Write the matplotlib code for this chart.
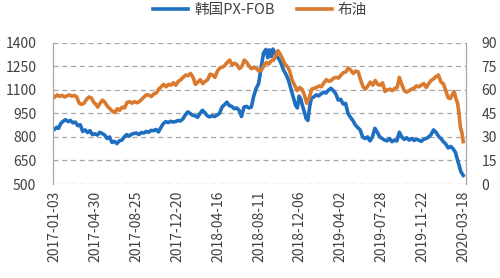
import pandas as pd
import matplotlib
matplotlib.use("Agg")
import matplotlib.pyplot as plt

plt.rcParams['font.family'] = ['Noto Sans CJK SC', 'DejaVu Sans']

# --- data (roughly weekly) ---
px_dates = [
    "2017-01-03", "2017-01-09", "2017-01-14", "2017-01-20", "2017-01-27", "2017-02-03", "2017-02-10",
    "2017-02-17", "2017-02-24", "2017-03-03", "2017-03-10", "2017-03-17", "2017-03-24", "2017-03-31",
    "2017-04-07", "2017-04-14", "2017-04-21", "2017-04-28", "2017-05-05", "2017-05-12", "2017-05-19",
    "2017-05-26", "2017-06-02", "2017-06-09", "2017-06-16", "2017-06-23", "2017-06-30", "2017-07-07",
    "2017-07-14", "2017-07-21", "2017-07-28", "2017-08-04", "2017-08-11", "2017-08-18", "2017-08-25",
    "2017-09-01", "2017-09-08", "2017-09-15", "2017-09-22", "2017-09-29", "2017-10-06", "2017-10-13",
    "2017-10-20", "2017-10-27", "2017-11-03", "2017-11-10", "2017-11-17", "2017-11-24", "2017-12-01",
    "2017-12-08", "2017-12-15", "2017-12-22", "2017-12-29", "2018-01-05", "2018-01-12", "2018-01-19",
    "2018-01-26", "2018-02-02", "2018-02-09", "2018-02-16", "2018-02-23", "2018-03-02", "2018-03-09",
    "2018-03-16", "2018-03-23", "2018-03-30", "2018-04-06", "2018-04-13", "2018-04-20", "2018-04-27",
    "2018-05-04", "2018-05-11", "2018-05-18", "2018-05-25", "2018-06-01", "2018-06-08", "2018-06-15",
    "2018-06-22", "2018-06-29", "2018-07-06", "2018-07-13", "2018-07-20", "2018-07-27", "2018-08-03",
    "2018-08-10", "2018-08-17", "2018-08-24", "2018-08-31", "2018-09-05", "2018-09-10", "2018-09-15",
    "2018-09-20", "2018-09-26", "2018-10-02", "2018-10-08", "2018-10-14", "2018-10-20", "2018-10-27",
    "2018-11-03", "2018-11-10", "2018-11-17", "2018-11-24", "2018-11-29", "2018-12-04", "2018-12-09",
    "2018-12-14", "2018-12-19", "2018-12-24", "2018-12-29", "2019-01-03", "2019-01-08", "2019-01-15",
    "2019-01-22", "2019-01-29", "2019-02-05", "2019-02-12", "2019-02-19", "2019-02-26", "2019-03-05",
    "2019-03-12", "2019-03-19", "2019-03-26", "2019-04-02", "2019-04-09", "2019-04-16", "2019-04-23",
    "2019-04-30", "2019-05-07", "2019-05-14", "2019-05-21", "2019-05-28", "2019-06-04", "2019-06-11",
    "2019-06-18", "2019-06-25", "2019-07-02", "2019-07-09", "2019-07-16", "2019-07-23", "2019-07-30",
    "2019-08-06", "2019-08-13", "2019-08-20", "2019-08-27", "2019-09-03", "2019-09-10", "2019-09-17",
    "2019-09-24", "2019-10-01", "2019-10-08", "2019-10-15", "2019-10-22", "2019-10-29", "2019-11-05",
    "2019-11-12", "2019-11-19", "2019-11-26", "2019-12-03", "2019-12-10", "2019-12-17", "2019-12-24",
    "2019-12-31", "2020-01-07", "2020-01-14", "2020-01-21", "2020-01-28", "2020-02-04", "2020-02-11",
    "2020-02-18", "2020-02-25", "2020-03-02", "2020-03-07", "2020-03-11", "2020-03-15", "2020-03-18"]
px_vals = [
    850, 862, 855, 885, 900, 910, 898,
    905, 890, 895, 872, 878, 835, 845,
    828, 840, 815, 820, 812, 830, 822,
    812, 790, 800, 765, 772, 758, 775,
    780, 800, 815, 805, 818, 822, 825,
    815, 828, 825, 835, 830, 842, 840,
    848, 832, 860, 885, 898, 892, 900,
    895, 898, 905, 902, 915, 940, 960,
    950, 938, 935, 925, 950, 970, 955,
    935, 928, 935, 930, 940, 950, 990,
    1005, 1022, 1000, 995, 980, 985, 970,
    930, 990, 995, 985, 990, 1060, 1110,
    1140, 1240, 1335, 1358, 1305, 1355, 1312,
    1360, 1330, 1310, 1295, 1265, 1228, 1200,
    1165, 1110, 1056, 1000, 985, 1060, 1040,
    995, 960, 918, 905, 990, 1046, 1055,
    1068, 1062, 1075, 1085, 1080, 1098, 1110,
    1095, 1075, 1035, 1040, 1010, 1014, 950,
    925, 905, 876, 860, 844, 800, 790,
    800, 775, 800, 855, 830, 800, 790,
    780, 775, 790, 770, 780, 775, 830,
    800, 785, 795, 780, 790, 778, 785,
    780, 772, 785, 790, 800, 815, 845,
    830, 805, 790, 770, 755, 730, 740,
    725, 700, 650, 615, 580, 565, 555]

brent_dates = [
    "2017-01-03", "2017-01-10", "2017-01-17", "2017-01-24", "2017-01-31", "2017-02-07", "2017-02-14",
    "2017-02-21", "2017-02-28", "2017-03-07", "2017-03-14", "2017-03-21", "2017-03-28", "2017-04-04",
    "2017-04-11", "2017-04-18", "2017-04-25", "2017-05-02", "2017-05-06", "2017-05-13", "2017-05-20",
    "2017-05-27", "2017-06-03", "2017-06-10", "2017-06-17", "2017-06-24", "2017-07-01", "2017-07-08",
    "2017-07-15", "2017-07-22", "2017-07-29", "2017-08-05", "2017-08-12", "2017-08-19", "2017-08-26",
    "2017-09-02", "2017-09-09", "2017-09-16", "2017-09-23", "2017-09-30", "2017-10-07", "2017-10-14",
    "2017-10-21", "2017-10-28", "2017-11-04", "2017-11-11", "2017-11-18", "2017-11-25", "2017-12-02",
    "2017-12-09", "2017-12-16", "2017-12-23", "2017-12-30", "2018-01-06", "2018-01-13", "2018-01-20",
    "2018-01-27", "2018-02-03", "2018-02-10", "2018-02-17", "2018-02-24", "2018-03-03", "2018-03-10",
    "2018-03-17", "2018-03-24", "2018-03-31", "2018-04-07", "2018-04-14", "2018-04-21", "2018-04-28",
    "2018-05-05", "2018-05-12", "2018-05-19", "2018-05-26", "2018-06-02", "2018-06-09", "2018-06-16",
    "2018-06-23", "2018-06-30", "2018-07-07", "2018-07-14", "2018-07-21", "2018-07-28", "2018-08-04",
    "2018-08-11", "2018-08-18", "2018-08-25", "2018-09-01", "2018-09-08", "2018-09-15", "2018-09-22",
    "2018-09-29", "2018-10-04", "2018-10-10", "2018-10-17", "2018-10-24", "2018-10-31", "2018-11-07",
    "2018-11-14", "2018-11-21", "2018-11-28", "2018-12-05", "2018-12-12", "2018-12-19", "2018-12-26",
    "2019-01-02", "2019-01-09", "2019-01-16", "2019-01-23", "2019-01-30", "2019-02-06", "2019-02-13",
    "2019-02-20", "2019-02-27", "2019-03-06", "2019-03-13", "2019-03-20", "2019-03-27", "2019-04-03",
    "2019-04-10", "2019-04-17", "2019-04-24", "2019-05-01", "2019-05-08", "2019-05-15", "2019-05-22",
    "2019-05-29", "2019-06-05", "2019-06-12", "2019-06-19", "2019-06-26", "2019-07-03", "2019-07-10",
    "2019-07-17", "2019-07-24", "2019-07-31", "2019-08-07", "2019-08-14", "2019-08-21", "2019-08-28",
    "2019-09-04", "2019-09-11", "2019-09-17", "2019-09-24", "2019-10-01", "2019-10-08", "2019-10-15",
    "2019-10-22", "2019-10-29", "2019-11-05", "2019-11-12", "2019-11-19", "2019-11-26", "2019-12-03",
    "2019-12-10", "2019-12-17", "2019-12-24", "2019-12-31", "2020-01-07", "2020-01-14", "2020-01-21",
    "2020-01-28", "2020-02-04", "2020-02-10", "2020-02-17", "2020-02-21", "2020-02-26", "2020-03-02",
    "2020-03-06", "2020-03-10", "2020-03-14", "2020-03-18"]
brent_vals = [
    55.5, 56.8, 55.8, 56.5, 55.5, 56.2, 56.8,
    56.0, 56.5, 55.5, 51.5, 50.8, 51.5, 54.0,
    55.5, 54.8, 52.0, 50.5, 49.0, 51.5, 53.5,
    52.0, 49.5, 48.0, 46.5, 45.5, 48.0, 47.0,
    49.0, 48.5, 52.0, 52.5, 51.5, 52.5, 51.8,
    52.5, 54.0, 55.5, 57.0, 56.5, 55.8, 57.5,
    58.0, 60.5, 62.0, 63.5, 62.0, 63.5, 63.0,
    64.5, 63.0, 65.5, 66.5, 68.0, 69.5, 69.0,
    70.5, 68.0, 63.5, 65.0, 66.5, 64.0, 65.5,
    66.5, 70.0, 69.5, 68.0, 72.0, 74.0, 74.5,
    75.5, 77.5, 79.0, 76.0, 77.0, 76.0, 73.5,
    75.0, 79.0, 77.5, 75.0, 73.5, 74.5, 73.5,
    72.0, 72.5, 75.5, 77.5, 76.5, 78.5, 79.0,
    82.5, 85.0, 83.0, 80.0, 76.5, 75.0, 72.0,
    66.0, 63.0, 59.5, 61.5, 60.5, 57.0, 51.5,
    55.0, 60.5, 61.0, 61.5, 62.5, 62.0, 64.5,
    66.5, 65.5, 66.0, 67.5, 68.0, 67.5, 69.5,
    71.0, 71.5, 74.0, 72.5, 70.5, 72.0, 71.5,
    66.5, 62.0, 60.5, 62.5, 65.0, 63.0, 66.0,
    63.5, 63.0, 64.5, 59.0, 60.0, 60.5, 59.5,
    61.0, 61.5, 68.0, 63.5, 59.5, 58.5, 59.5,
    60.5, 61.0, 62.5, 62.0, 63.0, 64.0, 61.5,
    64.0, 66.0, 67.0, 68.5, 69.5, 65.0, 64.0,
    59.5, 55.0, 54.5, 57.5, 59.0, 54.5, 51.5,
    45.0, 36.0, 33.0, 27.0]

tick_dates = ["2017-01-03", "2017-04-30", "2017-08-25", "2017-12-20", "2018-04-16", "2018-08-11",
              "2018-12-06", "2019-04-02", "2019-07-28", "2019-11-22", "2020-03-18"]
left_ticks = [500, 650, 800, 950, 1100, 1250, 1400]
right_ticks = [0, 15, 30, 45, 60, 75, 90]

BLUE = '#1f6fc1'
ORANGE = '#d97a2e'
TXT = '#404040'

fig = plt.figure(figsize=(5.0, 2.78), dpi=100)
ax = fig.add_axes([0.106, 0.338, 0.826, 0.508])
ax2 = ax.twinx()

l1, = ax.plot(pd.to_datetime(px_dates), px_vals, color=BLUE, lw=2.6, label='韩国PX-FOB')
l2, = ax2.plot(pd.to_datetime(brent_dates), brent_vals, color=ORANGE, lw=2.6, label='布油')

ax.set_ylim(500, 1400)
ax2.set_ylim(0, 90)
ax.set_yticks(left_ticks)
ax2.set_yticks(right_ticks)
ax.set_xlim(pd.Timestamp("2016-12-29"), pd.Timestamp("2020-03-26"))

ax.set_xticks(pd.to_datetime(tick_dates))
ax.set_xticklabels(tick_dates, rotation=90)

ax.grid(axis='y', color='#a6a6a6', linestyle=(0, (4, 3)), linewidth=0.9)
ax.set_axisbelow(True)

for a in (ax, ax2):
    for s in ('top', 'bottom'):
        a.spines[s].set_visible(False)
    a.spines['left'].set_color('#a6a6a6')
    a.spines['right'].set_color('#a6a6a6')
    a.tick_params(length=0, colors=TXT, labelsize=10)
ax.tick_params(axis='y', pad=12)
ax2.tick_params(axis='y', pad=11)
ax.tick_params(axis='x', pad=5)

fig.legend(handles=[l1, l2], loc='center', bbox_to_anchor=(0.52, 0.965), ncol=2,
           frameon=False, fontsize=10.5, handlelength=2.4, columnspacing=1.5,
           handletextpad=0.4, labelcolor=TXT)

fig.savefig('out.png', dpi=100)
